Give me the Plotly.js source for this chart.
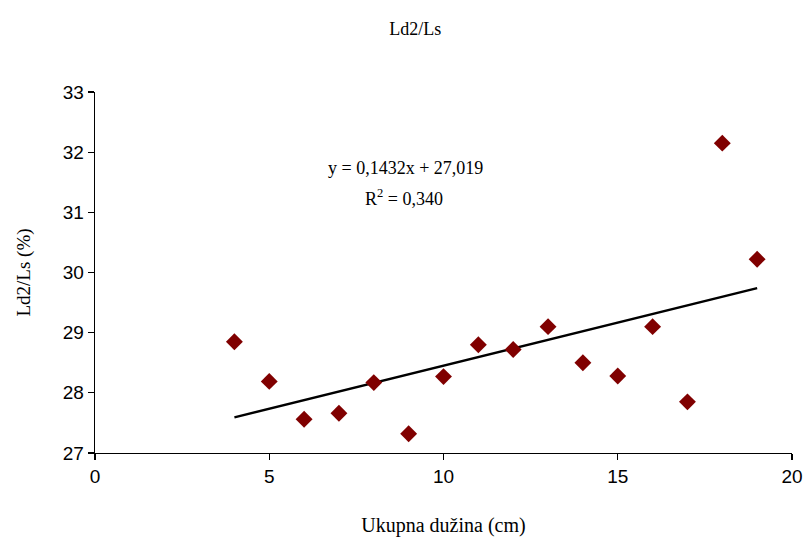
<!DOCTYPE html>
<html>
<head>
<meta charset="utf-8">
<script src="https://cdn.plot.ly/plotly-3.0.1.min.js"></script>
<style>html,body{margin:0;padding:0;background:#fff}#chart{width:808px;height:543px}</style>
</head>
<body>
<div id="chart"></div>
<script>
const xValues = [4, 5, 6, 7, 8, 9, 10, 11, 12, 13, 14, 15, 16, 17, 18, 19];
const yValues = [28.85, 28.19, 27.56, 27.66, 28.17, 27.32, 28.27, 28.80, 28.72, 29.10, 28.50, 28.28, 29.10, 27.85, 32.15, 30.22];
const slope = 0.1432;
const intercept = 27.019;
const trendX = [4, 19];
const trendY = trendX.map(x => slope * x + intercept);

const serif = 'Liberation Serif, Times New Roman, serif';
const sans = 'Liberation Sans, Arial, sans-serif';

const data = [
  {x: trendX, y: trendY, type: 'scatter', mode: 'lines',
   line: {color: '#000000', width: 2.5}, hoverinfo: 'skip', showlegend: false},
  {x: xValues, y: yValues, type: 'scatter', mode: 'markers',
   marker: {symbol: 'diamond', color: '#800000', size: 13}, showlegend: false}
];

const layout = {
  width: 808, height: 543,
  paper_bgcolor: '#ffffff', plot_bgcolor: '#ffffff',
  margin: {l: 95, r: 16, t: 92, b: 90},
  title: {text: 'Ld2/Ls', font: {family: serif, size: 18, color: '#000'},
          x: 0.514, xanchor: 'center', y: 0.948, yanchor: 'middle'},
  xaxis: {range: [0, 20], dtick: 5, tick0: 0, showgrid: false, zeroline: false,
          showline: true, linecolor: '#000', linewidth: 1.3,
          ticks: 'outside', ticklen: 6, tickcolor: '#000', tickwidth: 1.3,
          tickfont: {family: sans, size: 19, color: '#000'},
          title: {text: 'Ukupna dužina (cm)', font: {family: serif, size: 20, color: '#000'}, standoff: 32}},
  yaxis: {range: [27, 33], dtick: 1, showgrid: false, zeroline: false,
          showline: true, linecolor: '#000', linewidth: 1.3,
          ticks: 'outside', ticklen: 6, tickcolor: '#000', tickwidth: 1.3,
          tickfont: {family: sans, size: 19, color: '#000'},
          title: {text: 'Ld2/Ls (%)', font: {family: serif, size: 19, color: '#000'}, standoff: 27}},
  annotations: [
    {xref: 'paper', yref: 'paper', x: (405 - 95) / 697, y: (453 - 168) / 361,
     text: 'y = 0,1432x + 27,019', showarrow: false,
     font: {family: serif, size: 18, color: '#000'}, xanchor: 'center', yanchor: 'middle'},
    {xref: 'paper', yref: 'paper', x: (404 - 95) / 697, y: (453 - 197) / 361,
     text: 'R<sup>2</sup> = 0,340', showarrow: false,
     font: {family: serif, size: 18, color: '#000'}, xanchor: 'center', yanchor: 'middle'}
  ]
};

Plotly.newPlot('chart', data, layout, {displayModeBar: false, staticPlot: true});
</script>
</body>
</html>
